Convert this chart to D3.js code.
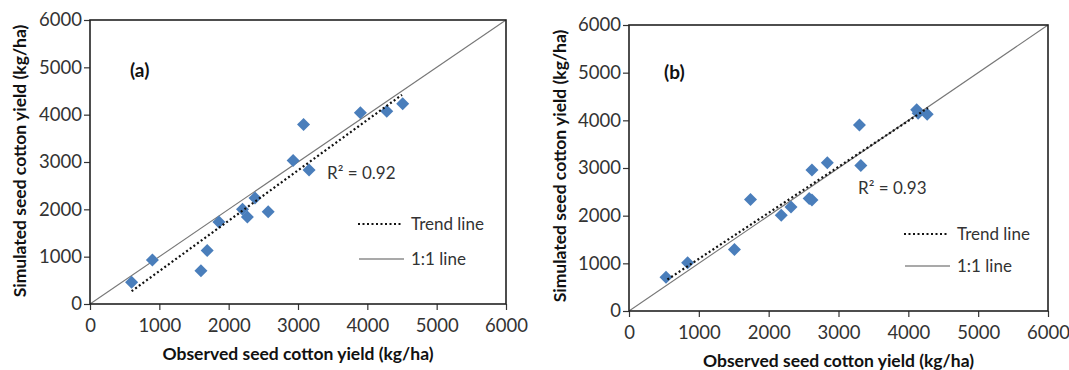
<!DOCTYPE html>
<html><head><meta charset="utf-8">
<script src="https://cdn.jsdelivr.net/npm/d3@7"></script>
<style>
html,body{margin:0;padding:0;background:#fff;}
svg{display:block;}
text{font-family:Lato, "Open Sans", sans-serif;}
</style></head>
<body>
<svg id="chart" width="1069" height="370"></svg>
<script>
// ---- data ----
const ticks = [0, 1000, 2000, 3000, 4000, 5000, 6000];
const obsA = [600, 900, 1600, 1690, 1860, 2200, 2270, 2380, 2570, 2930, 3080, 3160, 3900, 4280, 4510];
const simA = [460, 930, 700, 1130, 1730, 2000, 1840, 2240, 1950, 3030, 3790, 2830, 4040, 4070, 4230];
const trendA = [[600, 270], [4500, 4420]];
const obsB = [530, 840, 1510, 1740, 2180, 2320, 2580, 2620, 2620, 2840, 3300, 3320, 4120, 4140, 4270];
const simB = [710, 1010, 1290, 2340, 2010, 2180, 2360, 2330, 2960, 3110, 3900, 3050, 4220, 4150, 4130];
const trendB = [[550, 660], [4280, 4260]];
const oneToOne = [[0, 0], [6000, 6000]];
const labels = ["(a)", "(b)"];
const r2 = ["R\u00B2 = 0.92", "R\u00B2 = 0.93"];
const yTitles = ["Simulated  seed cotton yield (kg/ha)", "Simulated seed cotton yield (kg/ha)"];
const xTitle = "Observed seed cotton yield (kg/ha)";
const legendLabels = ["Trend line", "1:1 line"];

const svg = d3.select("#chart");

const panels = [
  {obs: obsA, sim: simA, trend: trendA, lab: labels[0], r2: r2[0], yt: yTitles[0],
   l: 90, r: 506, t: 20, b: 304, labPos:[130, 77], r2Pos:[327, 179], leg:[358, 224, 259],
   yTitleX: 20, yTitleY: 161, xTitleY: 360},
  {obs: obsB, sim: simB, trend: trendB, lab: labels[1], r2: r2[1], yt: yTitles[1],
   l: 629, r: 1048, t: 25, b: 311, labPos:[664, 79], r2Pos:[858, 194], leg:[904, 234, 266],
   yTitleX: 560, yTitleY: 166, xTitleY: 367}
];

panels.forEach(p => {
  const x = d3.scaleLinear().domain([0, 6000]).range([p.l, p.r]);
  const y = d3.scaleLinear().domain([0, 6000]).range([p.b, p.t]);
  const g = svg.append("g");

  const xAxis = g.append("g").attr("transform", `translate(0,${p.b})`)
    .call(d3.axisBottom(x).tickValues(ticks).tickFormat(d3.format("d")).tickSize(6).tickSizeOuter(0));
  const yAxis = g.append("g").attr("transform", `translate(${p.l},0)`)
    .call(d3.axisLeft(y).tickValues(ticks).tickFormat(d3.format("d")).tickSize(6).tickSizeOuter(0));
  [xAxis, yAxis].forEach(a => {
    a.select(".domain").remove();
    a.selectAll(".tick line").attr("stroke", "#333").attr("stroke-width", 1.2);
    a.selectAll(".tick text").attr("fill", "#333").style("font-size", "18.5px").style("font-family", "Lato");
  });
  xAxis.selectAll(".tick text").attr("dy", "1.0em");
  yAxis.selectAll(".tick text").attr("x", -8);

  // 1:1 line
  g.append("path").datum(oneToOne)
    .attr("d", d3.line().x(d => x(d[0])).y(d => y(d[1])))
    .attr("stroke", "#777").attr("stroke-width", 1.1).attr("fill", "none");

  // frame
  g.append("rect").attr("x", x(0)).attr("y", y(6000))
    .attr("width", x(6000) - x(0)).attr("height", y(0) - y(6000))
    .attr("fill", "none").attr("stroke", "#222").attr("stroke-width", 1.6);

  // points
  const pts = p.obs.map((o, i) => [o, p.sim[i]]);
  g.selectAll("path.pt").data(pts).enter().append("path").attr("class", "pt")
    .attr("d", d3.symbol().type(d3.symbolDiamond2).size(108))
    .attr("transform", d => `translate(${x(d[0])},${y(d[1])})`)
    .attr("fill", "#4A7EBB");

  // trend line
  g.append("path").datum(p.trend)
    .attr("d", d3.line().x(d => x(d[0])).y(d => y(d[1])))
    .attr("stroke", "#111").attr("stroke-width", 2.2).attr("stroke-dasharray", "2,2.5").attr("fill", "none");

  // labels
  g.append("text").attr("x", p.labPos[0]).attr("y", p.labPos[1]).text(p.lab)
    .style("font-size", "19px").style("font-weight", "bold").attr("fill", "#111");
  g.append("text").attr("x", p.r2Pos[0]).attr("y", p.r2Pos[1]).text(p.r2)
    .style("font-size", "17px").attr("fill", "#333");

  // legend
  const lx = p.leg[0];
  g.append("line").attr("x1", lx).attr("x2", lx + 44).attr("y1", p.leg[1]).attr("y2", p.leg[1])
    .attr("stroke", "#111").attr("stroke-width", 2.2).attr("stroke-dasharray", "2,2.5");
  g.append("line").attr("x1", lx + 1).attr("x2", lx + 46).attr("y1", p.leg[2]).attr("y2", p.leg[2])
    .attr("stroke", "#555").attr("stroke-width", 1.1);
  g.append("text").attr("x", lx + 53).attr("y", p.leg[1]).attr("dy", "0.35em").text(legendLabels[0])
    .style("font-size", "17px").attr("fill", "#333");
  g.append("text").attr("x", lx + 53).attr("y", p.leg[2]).attr("dy", "0.35em").text(legendLabels[1])
    .style("font-size", "17px").attr("fill", "#333");

  // axis titles
  g.append("text").attr("transform", `translate(${p.yTitleX},${p.yTitleY}) rotate(-90)`)
    .attr("text-anchor", "middle").attr("dy", "0.35em").text(p.yt)
    .style("font-size", "17.5px").style("font-weight", "bold").attr("fill", "#111");
  g.append("text").attr("x", (p.l + p.r) / 2).attr("y", p.xTitleY)
    .attr("text-anchor", "middle").text(xTitle)
    .style("font-size", "17.5px").style("font-weight", "bold").attr("fill", "#111");
});
</script>
</body></html>
